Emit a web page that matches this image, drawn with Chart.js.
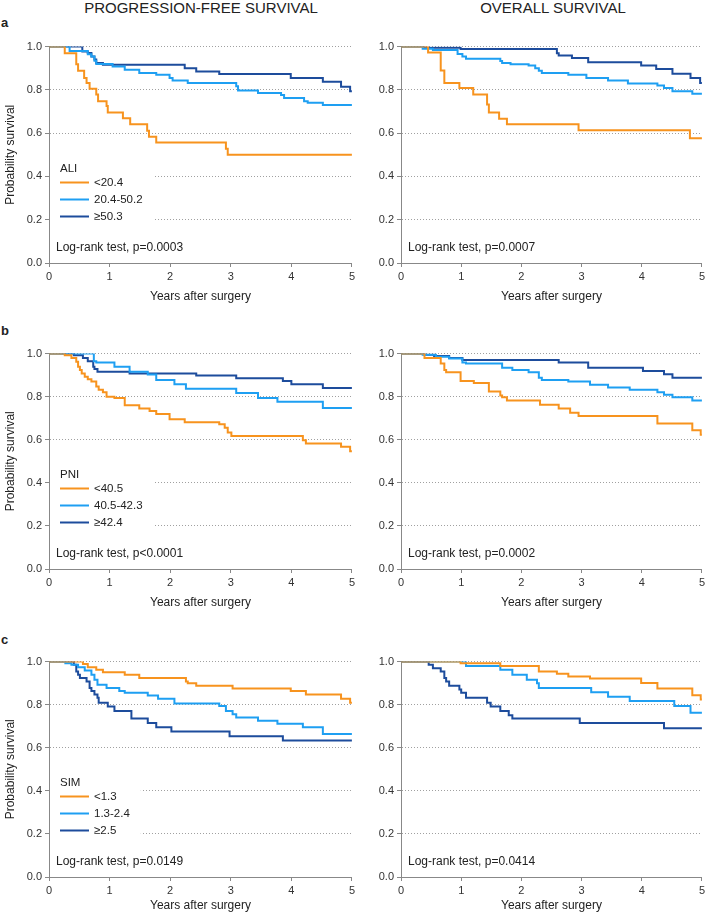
<!DOCTYPE html>
<html>
<head>
<meta charset="utf-8">
<script src="https://cdn.jsdelivr.net/npm/chart.js@4/dist/chart.umd.min.js"></script>
<style>
  body { margin: 0; background: #fff; width: 708px; height: 916px; position: relative; overflow: hidden;
         font-family: "Liberation Sans", Arial, sans-serif; color: #222; }
  canvas { position: absolute; }
  .head { position: absolute; top: 0; font-size: 15px; line-height: 15px; text-align: center; }
  .tag { position: absolute; left: 1px; font-size: 13px; font-weight: bold; line-height: 14px; }
</style>
</head>
<body>
<div class="head" style="left:0;width:402px">PROGRESSION-FREE SURVIVAL</div>
<div class="head" style="left:400px;width:306px">OVERALL SURVIVAL</div>
<div class="tag" style="top:16px">a</div>
<div class="tag" style="top:324px">b</div>
<div class="tag" style="top:633px">c</div>

<canvas id="pfsA" width="358" height="270" style="left:0;top:37px"></canvas>
<canvas id="osA" width="350" height="270" style="left:358px;top:37px"></canvas>
<canvas id="pfsB" width="358" height="269" style="left:0;top:344px"></canvas>
<canvas id="osB" width="350" height="269" style="left:358px;top:344px"></canvas>
<canvas id="pfsC" width="358" height="264" style="left:0;top:652px"></canvas>
<canvas id="osC" width="350" height="264" style="left:358px;top:652px"></canvas>

<script>
// groups and colours
const aliGroups = ['<20.4', '20.4-50.2', '≥50.3'];
const pniGroups = ['<40.5', '40.5-42.3', '≥42.4'];
const simGroups = ['<1.3', '1.3-2.4', '≥2.5'];
const groupColors = ['#F7931E', '#1E9FF2', '#1D4C9C'];
const yearTicks = [0, 1, 2, 3, 4, 5];
const probTicks = [0, 0.2, 0.4, 0.6, 0.8, 1.0];

// Kaplan-Meier steps: [years, survival]
const pfsAliLow = [[0,1],[0.26,0.969],[0.45,0.919],[0.48,0.888],[0.58,0.855],[0.62,0.832],[0.67,0.805],[0.78,0.779],[0.81,0.748],[0.95,0.725],[0.97,0.695],[1.22,0.669],[1.34,0.641],[1.62,0.611],[1.65,0.583],[1.77,0.557],[2.92,0.528],[2.95,0.50],[5,0.50]];
const pfsAliMid = [[0,1],[0.34,0.98],[0.64,0.965],[0.70,0.954],[0.75,0.935],[0.78,0.92],[1.05,0.908],[1.25,0.893],[1.49,0.878],[1.77,0.87],[1.99,0.855],[2.04,0.843],[2.29,0.832],[3.09,0.817],[3.12,0.797],[3.45,0.786],[3.83,0.776],[3.88,0.763],[4.21,0.748],[4.27,0.74],[4.52,0.73],[5,0.73]];
const pfsAliHigh = [[0,1],[0.55,0.977],[0.64,0.97],[0.70,0.954],[0.75,0.94],[0.78,0.924],[0.89,0.916],[2.24,0.90],[2.43,0.885],[2.81,0.873],[3.99,0.855],[4.52,0.837],[4.82,0.814],[4.97,0.794],[5,0.794]];

const osAliLow = [[0,1],[0.45,0.973],[0.66,0.89],[0.72,0.832],[0.97,0.809],[1.20,0.779],[1.43,0.733],[1.46,0.695],[1.63,0.667],[1.76,0.641],[2.95,0.614],[4.80,0.576],[5,0.576]];
const osAliMid = [[0,1],[0.36,0.99],[0.53,0.984],[0.94,0.966],[1.02,0.954],[1.08,0.944],[1.65,0.934],[1.68,0.924],[1.82,0.919],[2.12,0.913],[2.23,0.90],[2.29,0.888],[2.34,0.878],[2.78,0.87],[3.08,0.855],[3.44,0.843],[3.77,0.829],[4.26,0.82],[4.37,0.809],[4.51,0.794],[4.84,0.782],[5,0.782]];
const osAliHigh = [[0,1],[0.39,0.995],[0.99,0.989],[2.59,0.969],[2.62,0.959],[2.84,0.947],[3.11,0.928],[3.99,0.913],[4.24,0.896],[4.51,0.875],[4.81,0.855],[4.97,0.832],[5,0.832]];

const pfsPniLow = [[0,1],[0.26,0.992],[0.37,0.98],[0.45,0.962],[0.48,0.939],[0.51,0.924],[0.54,0.908],[0.59,0.893],[0.64,0.881],[0.70,0.87],[0.78,0.847],[0.82,0.832],[0.89,0.82],[0.95,0.80],[1.08,0.794],[1.25,0.76],[1.49,0.745],[1.66,0.733],[1.77,0.72],[1.99,0.695],[2.24,0.681],[2.81,0.672],[2.90,0.656],[2.95,0.634],[3.01,0.618],[4.19,0.598],[4.24,0.583],[4.82,0.568],[4.97,0.547],[5,0.547]];
const pfsPniMid = [[0,1],[0.74,0.965],[0.78,0.959],[1.08,0.939],[1.33,0.916],[1.63,0.903],[1.77,0.878],[2.07,0.858],[2.26,0.837],[3.09,0.817],[3.45,0.794],[3.77,0.776],[4.52,0.748],[5,0.748]];
const pfsPniHigh = [[0,1],[0.41,0.992],[0.56,0.98],[0.64,0.965],[0.73,0.939],[0.75,0.928],[0.80,0.916],[1.33,0.908],[2.43,0.898],[3.09,0.885],[3.86,0.873],[4.0,0.858],[4.52,0.84],[5,0.84]];

const osPniLow = [[0,1],[0.39,0.98],[0.66,0.954],[0.72,0.924],[0.75,0.913],[0.99,0.873],[1.21,0.863],[1.46,0.824],[1.65,0.806],[1.68,0.797],[1.76,0.782],[2.31,0.763],[2.62,0.745],[2.81,0.725],[2.95,0.71],[4.26,0.675],[4.84,0.644],[4.98,0.623],[5,0.623]];
const osPniMid = [[0,1],[0.36,0.995],[0.58,0.985],[0.80,0.977],[1.02,0.959],[1.08,0.954],[1.68,0.934],[1.85,0.924],[2.12,0.913],[2.29,0.888],[2.34,0.878],[2.78,0.87],[3.14,0.855],[3.44,0.843],[3.80,0.832],[4.26,0.821],[4.37,0.809],[4.51,0.797],[4.84,0.782],[5,0.782]];
const osPniHigh = [[0,1],[0.39,0.995],[0.55,0.989],[0.80,0.98],[1.02,0.97],[2.62,0.959],[3.11,0.934],[4.02,0.919],[4.37,0.904],[4.51,0.888],[5,0.888]];

const pfsSimLow = [[0,1],[0.56,0.989],[0.64,0.974],[0.78,0.962],[0.89,0.95],[1.25,0.939],[1.49,0.924],[2.26,0.908],[2.29,0.90],[2.43,0.888],[3.03,0.875],[3.99,0.863],[4.24,0.847],[4.82,0.827],[4.97,0.809],[5,0.809]];
const pfsSimMid = [[0,1],[0.27,0.992],[0.37,0.985],[0.48,0.974],[0.59,0.959],[0.70,0.939],[0.75,0.916],[0.80,0.893],[0.95,0.878],[1.16,0.863],[1.25,0.855],[1.63,0.843],[1.80,0.827],[2.07,0.805],[2.81,0.794],[2.92,0.771],[3.03,0.755],[3.09,0.74],[3.45,0.725],[3.77,0.712],[4.19,0.695],[4.52,0.664],[5,0.664]];
const pfsSimHigh = [[0,1],[0.41,0.985],[0.45,0.954],[0.48,0.939],[0.51,0.924],[0.62,0.908],[0.67,0.878],[0.70,0.863],[0.75,0.847],[0.80,0.832],[0.82,0.809],[0.97,0.791],[1.08,0.771],[1.36,0.736],[1.63,0.715],[1.77,0.695],[2.02,0.675],[2.98,0.653],[3.86,0.634],[5,0.634]];

const osSimLow = [[0,1],[0.99,0.992],[1.65,0.98],[2.29,0.954],[2.59,0.944],[2.78,0.931],[3.14,0.921],[3.99,0.901],[4.26,0.875],[4.84,0.844],[4.98,0.824],[5,0.824]];
const osSimMid = [[0,1],[1.08,0.98],[1.65,0.962],[1.85,0.939],[2.09,0.916],[2.26,0.90],[2.29,0.878],[3.16,0.858],[3.44,0.837],[3.80,0.817],[4.54,0.794],[4.81,0.763],[5,0.763]];
const osSimHigh = [[0,1],[0.46,0.985],[0.53,0.969],[0.66,0.954],[0.72,0.924],[0.75,0.908],[0.80,0.888],[0.97,0.87],[1.0,0.855],[1.08,0.832],[1.43,0.809],[1.49,0.791],[1.65,0.771],[1.79,0.751],[1.85,0.736],[2.97,0.715],[4.37,0.69],[5,0.69]];

const logRankNotes = ['Log-rank test, p=0.0003', 'Log-rank test, p=0.0007',
                      'Log-rank test, p<0.0001', 'Log-rank test, p=0.0002',
                      'Log-rank test, p=0.0149', 'Log-rank test, p=0.0414'];

const FONT = '"Liberation Sans", Arial, sans-serif';
Chart.defaults.font.family = FONT;

// log-rank note + in-plot legend (white box hides the dotted grid behind it)
const kmDecor = {
  id: 'kmDecor',
  beforeDatasetsDraw(chart, args, opts) {
    const { ctx, chartArea: a } = chart;
    ctx.save();
    if (opts.title) {
      const x0 = a.left + 11;
      ctx.font = '11.5px ' + FONT;
      const sets = chart.data.datasets;
      const w = Math.max(...sets.map(d => ctx.measureText(d.label).width));
      ctx.fillStyle = '#fff';
      ctx.fillRect(a.left + 1, a.bottom - 104, x0 + 34 + w + 11 - a.left - 1, 68);
      ctx.textBaseline = 'middle';
      ctx.fillStyle = '#222';
      ctx.fillText(opts.title, x0, a.bottom - 94);
      sets.forEach((d, i) => {
        const y = a.bottom - 80.5 + i * 17;
        ctx.strokeStyle = d.borderColor;
        ctx.lineWidth = 2;
        ctx.beginPath();
        ctx.moveTo(x0, y);
        ctx.lineTo(x0 + 29, y);
        ctx.stroke();
        ctx.fillStyle = '#222';
        ctx.fillText(d.label, x0 + 34, y);
      });
    }
    ctx.font = '12px ' + FONT;
    ctx.fillStyle = '#222';
    ctx.textBaseline = 'middle';
    ctx.fillText(opts.note, a.left + 7, a.bottom - 15);
    ctx.restore();
  }
};

function panel(id, curves, groups, note, legendTitle, isLeft, xH) {
  new Chart(document.getElementById(id), {
    type: 'line',
    data: {
      datasets: curves.map((c, i) => ({
        label: groups[i],
        data: c.map(([x, y]) => ({ x, y })),
        borderColor: groupColors[i],
        borderWidth: 2,
        pointRadius: 0,
        stepped: true,
        fill: false
      }))
    },
    options: {
      responsive: false,
      animation: false,
      events: [],
      layout: { padding: { top: 8, right: isLeft ? 5 : 4, left: 0, bottom: 0 } },
      plugins: {
        legend: { display: false },
        tooltip: { enabled: false },
        kmDecor: { note: note, title: legendTitle }
      },
      scales: {
        x: {
          type: 'linear', min: yearTicks[0], max: yearTicks[yearTicks.length - 1],
          afterBuildTicks: s => { s.ticks = yearTicks.map(v => ({ value: v })); },
          ticks: { padding: 3, color: '#333', font: { size: 11 } },
          grid: { drawOnChartArea: false, tickLength: 4, color: '#888' },
          border: { color: '#888' },
          title: { display: true, text: 'Years after surgery', color: '#222', font: { size: 12 },
                   padding: { top: 0, bottom: 3 } },
          afterFit: s => { s.height = xH; }
        },
        y: {
          min: 0, max: 1,
          afterBuildTicks: s => { s.ticks = probTicks.map(v => ({ value: v })); },
          ticks: { padding: 3, color: '#333', font: { size: 11 }, callback: v => v.toFixed(1) },
          grid: { color: c => c.tick && c.tick.value === 0 ? 'rgba(0,0,0,0)' : '#a0a0a0',
                  tickColor: '#888', tickLength: 4 },
          border: { color: '#888', dash: [1, 2] },
          title: { display: isLeft, text: 'Probability survival', color: '#222', font: { size: 12 },
                   padding: { top: 3, bottom: 0 } },
          afterFit: s => { s.width = isLeft ? 49 : 43; }
        }
      }
    },
    plugins: [kmDecor]
  });
}

panel('pfsA', [pfsAliLow, pfsAliMid, pfsAliHigh], aliGroups, logRankNotes[0], 'ALI', true, 44);
panel('osA', [osAliLow, osAliMid, osAliHigh], aliGroups, logRankNotes[1], null, false, 44);
panel('pfsB', [pfsPniLow, pfsPniMid, pfsPniHigh], pniGroups, logRankNotes[2], 'PNI', true, 44);
panel('osB', [osPniLow, osPniMid, osPniHigh], pniGroups, logRankNotes[3], null, false, 44);
panel('pfsC', [pfsSimLow, pfsSimMid, pfsSimHigh], simGroups, logRankNotes[4], 'SIM', true, 39);
panel('osC', [osSimLow, osSimMid, osSimHigh], simGroups, logRankNotes[5], null, false, 39);
</script>
</body>
</html>
